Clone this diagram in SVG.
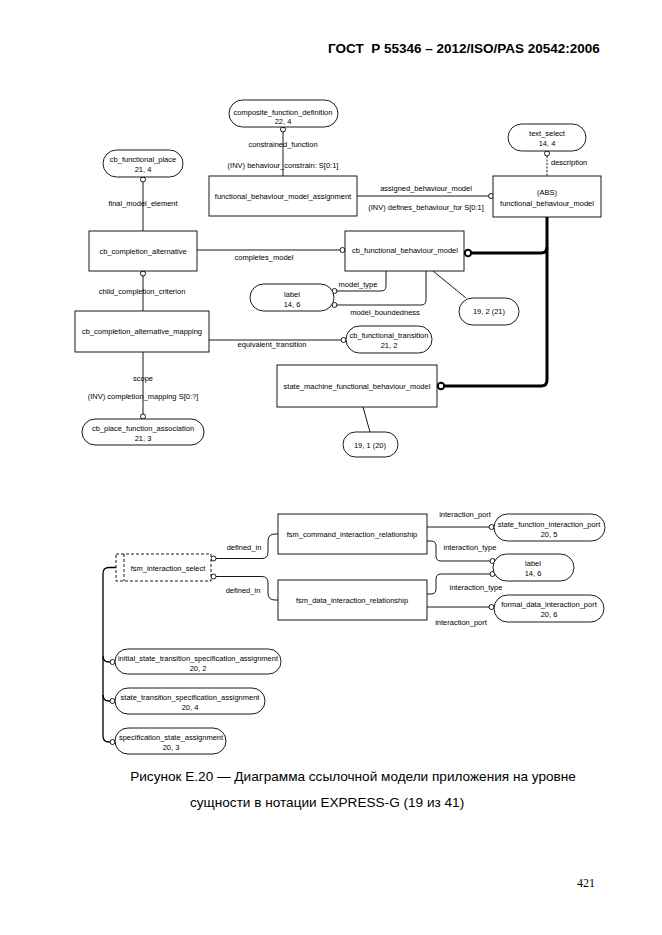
<svg xmlns="http://www.w3.org/2000/svg" width="662" height="935" viewBox="0 0 662 935">
<style>
.bg{fill:#fff}
.box{fill:#fff;stroke:#000;stroke-width:0.9}
.sel{fill:#fff;stroke:#000;stroke-width:0.9;stroke-dasharray:3,2}
.t{font-family:"Liberation Sans",Arial,sans-serif;font-size:7.5px;fill:#000;text-anchor:middle}
.ts{font-family:"Liberation Sans",Arial,sans-serif;font-size:7.5px;fill:#000}
.ln{fill:none;stroke:#000;stroke-width:0.9}
.dash{fill:none;stroke:#000;stroke-width:0.9;stroke-dasharray:2,1.5}
.thick{fill:none;stroke:#000;stroke-width:3}
.bus{fill:none;stroke:#000;stroke-width:1.3}
.c{fill:#fff;stroke:#000;stroke-width:0.9}
.ct{fill:#fff;stroke:#000;stroke-width:2}
.hdr{font-family:"Liberation Sans",Arial,sans-serif;font-size:13.5px;font-weight:bold;fill:#000;white-space:pre}
.cap{font-family:"Liberation Sans",Arial,sans-serif;font-size:13.6px;fill:#000}
.pg{font-family:"Liberation Serif","Times New Roman",serif;font-size:12px;fill:#000}
</style>
<rect class="bg" x="0" y="0" width="662" height="935"/>
<text class="hdr" x="328" y="53" xml:space="preserve">ГОСТ  Р 55346 – 2012/ISO/PAS 20542:2006</text>

<g id="connectors">
  <path class="ln" d="M283,132 V176"/>
  <circle class="c" cx="283" cy="129.5" r="2.5"/>
  <path class="ln" d="M357,196 H489"/>
  <circle class="c" cx="491" cy="196" r="2.5"/>
  <path class="dash" d="M547,156 V176"/>
  <circle class="c" cx="547" cy="153.5" r="2.5"/>
  <path class="thick" d="M547,217 V380 Q547,386 541,386 H445"/>
  <path class="thick" d="M547,247 Q547,253 541,253 H472"/>
  <circle class="ct" cx="468" cy="253" r="3.2"/>
  <circle class="ct" cx="441" cy="386" r="3.2"/>
  <path class="ln" d="M143,182 V231"/>
  <circle class="c" cx="143" cy="179.5" r="2.5"/>
  <path class="ln" d="M197,250 H340"/>
  <circle class="c" cx="342.5" cy="250" r="2.5"/>
  <path class="ln" d="M336,291 H381 Q386,291 386,286 V271"/>
  <circle class="c" cx="334.5" cy="291" r="2.5"/>
  <path class="ln" d="M336,305 H421 Q426,305 426,300 V271"/>
  <circle class="c" cx="334.5" cy="305" r="2.5"/>
  <path class="ln" d="M433,271 L466,298"/>
  <path class="ln" d="M143,276 V311"/>
  <circle class="c" cx="143" cy="273.5" r="2.5"/>
  <path class="ln" d="M209,340 H341"/>
  <circle class="c" cx="343.5" cy="340" r="2.5"/>
  <path class="ln" d="M143,352 V414"/>
  <circle class="c" cx="143" cy="416.5" r="2.5"/>
  <path class="ln" d="M363,407 L370,432"/>

  <path class="ln" d="M216,558.5 H262 Q268,558.5 268,552 V541 Q268,534 275,534 H278"/>
  <circle class="c" cx="213.5" cy="558.5" r="2.5"/>
  <path class="ln" d="M216,576.5 H262 Q268,576.5 268,583 V593 Q268,600 275,600 H278"/>
  <circle class="c" cx="213.5" cy="576.5" r="2.5"/>
  <path class="ln" d="M427,527 H489"/>
  <circle class="c" cx="491.5" cy="527" r="2.5"/>
  <path class="ln" d="M427,541 H431 Q436,541 436,546 V556 Q436,561 441,561 H490"/>
  <circle class="c" cx="492.5" cy="561" r="2.5"/>
  <path class="ln" d="M427,594 H431 Q436,594 436,589 V579 Q436,574 441,574 H490"/>
  <circle class="c" cx="492.5" cy="574" r="2.5"/>
  <path class="ln" d="M427,607 H489"/>
  <circle class="c" cx="491.5" cy="607" r="2.5"/>
  <path class="bus" d="M116,567.5 H109 Q103,567.5 103,573.5 V736 Q103,742 109,742 H110"/>
  <path class="bus" d="M103,656 Q103,662 109,662 H110"/>
  <path class="bus" d="M103,695 Q103,701 109,701 H110"/>
  <circle class="c" cx="112.5" cy="662" r="2.5"/>
  <circle class="c" cx="112.5" cy="701" r="2.5"/>
  <circle class="c" cx="112.5" cy="742" r="2.5"/>

  <text class="t" x="283" y="146.5">constrained_function</text>
  <text class="t" x="283" y="167.5">(INV) behaviour_constrain: S[0:1]</text>
  <text class="t" x="426" y="190.5">assigned_behaviour_model</text>
  <text class="t" x="426" y="209.5">(INV) defines_behaviour_for S[0:1]</text>
  <text class="ts" x="551" y="164.5">description</text>
  <text class="t" x="143" y="205.5">final_model_element</text>
  <text class="t" x="264" y="259.5">completes_model</text>
  <text class="t" x="358" y="287">model_type</text>
  <text class="t" x="385" y="314.5">model_boundedness</text>
  <text class="t" x="142" y="293.5">child_completion_criterion</text>
  <text class="t" x="272" y="346.5">equivalent_transition</text>
  <text class="t" x="143" y="380.5">scope</text>
  <text class="t" x="143" y="398.5">(INV) completion_mapping S[0:?]</text>
  <text class="t" x="244" y="549.5">defined_in</text>
  <text class="t" x="243" y="592.5">defined_in</text>
  <text class="t" x="465" y="516.5">interaction_port</text>
  <text class="t" x="470" y="549.5">interaction_type</text>
  <text class="t" x="476" y="589.5">interaction_type</text>
  <text class="t" x="461" y="624.5">interaction_port</text>
</g>

<g id="composite_function_definition">
  <rect class="box" x="229" y="100" width="109" height="27" rx="13.5"/>
  <text class="t" x="283" y="114.5">composite_function_definition</text>
  <text class="t" x="283" y="123.5">22, 4</text>
</g>
<g id="functional_behaviour_model_assignment">
  <rect class="box" x="209" y="176" width="148" height="40"/>
  <text class="t" x="283" y="199">functional_behaviour_model_assignment</text>
</g>
<g id="text_select">
  <rect class="box" x="508" y="124" width="78" height="27" rx="13.5"/>
  <text class="t" x="547" y="135.5">text_select</text>
  <text class="t" x="547" y="145.5">14, 4</text>
</g>
<g id="functional_behaviour_model">
  <rect class="box" x="493" y="176" width="108" height="41"/>
  <text class="t" x="547" y="194.5">(ABS)</text>
  <text class="t" x="547" y="205.5">functional_behaviour_model</text>
</g>
<g id="cb_functional_place">
  <rect class="box" x="103" y="150" width="80" height="27" rx="13.5"/>
  <text class="t" x="143" y="161.5">cb_functional_place</text>
  <text class="t" x="143" y="171.5">21, 4</text>
</g>
<g id="cb_completion_alternative">
  <rect class="box" x="89" y="231" width="108" height="40"/>
  <text class="t" x="143" y="253.5">cb_completion_alternative</text>
</g>
<g id="cb_functional_behaviour_model">
  <rect class="box" x="345" y="231" width="119" height="40"/>
  <text class="t" x="405" y="252.5">cb_functional_behaviour_model</text>
</g>
<g id="label_1">
  <rect class="box" x="250" y="284" width="84" height="27" rx="13.5"/>
  <text class="t" x="292" y="296.5">label</text>
  <text class="t" x="292" y="306.5">14, 6</text>
</g>
<g id="ref_19_2_21">
  <rect class="box" x="459" y="298" width="60" height="27" rx="13.5"/>
  <text class="t" x="489" y="313.5">19, 2 (21)</text>
</g>
<g id="cb_completion_alternative_mapping">
  <rect class="box" x="75" y="311" width="134" height="41"/>
  <text class="t" x="142" y="333.5">cb_completion_alternative_mapping</text>
</g>
<g id="cb_functional_transition">
  <rect class="box" x="346" y="326" width="86" height="27" rx="13.5"/>
  <text class="t" x="389" y="337.5">cb_functional_transition</text>
  <text class="t" x="389" y="347.5">21, 2</text>
</g>
<g id="state_machine_functional_behaviour_model">
  <rect class="box" x="277" y="365" width="160" height="42"/>
  <text class="t" x="357" y="388.5">state_machine_functional_behaviour_model</text>
</g>
<g id="ref_19_1_20">
  <rect class="box" x="343" y="432" width="55" height="25" rx="12.5"/>
  <text class="t" x="370" y="447.5">19, 1 (20)</text>
</g>
<g id="cb_place_function_association">
  <rect class="box" x="82" y="419" width="122" height="26" rx="13"/>
  <text class="t" x="143" y="430.5">cb_place_function_association</text>
  <text class="t" x="143" y="440.5">21, 3</text>
</g>

<g id="fsm_command_interaction_relationship">
  <rect class="box" x="278" y="514" width="149" height="40"/>
  <text class="t" x="352" y="536.5">fsm_command_interaction_relationship</text>
</g>
<g id="fsm_data_interaction_relationship">
  <rect class="box" x="278" y="580" width="149" height="40"/>
  <text class="t" x="352" y="602.5">fsm_data_interaction_relationship</text>
</g>
<g id="fsm_interaction_select">
  <rect class="sel" x="116" y="554" width="95" height="27"/>
  <line class="sel" x1="124" y1="554" x2="124" y2="581"/>
  <text class="t" x="168" y="570.5">fsm_interaction_select</text>
</g>
<g id="state_function_interaction_port">
  <rect class="box" x="494" y="514" width="111" height="27" rx="13.5"/>
  <text class="t" x="549" y="526.5">state_function_interaction_port</text>
  <text class="t" x="549" y="536.5">20, 5</text>
</g>
<g id="label_2">
  <rect class="box" x="493" y="554" width="81" height="27" rx="13.5"/>
  <text class="t" x="533" y="565.5">label</text>
  <text class="t" x="533" y="575.5">14, 6</text>
</g>
<g id="formal_data_interaction_port">
  <rect class="box" x="494" y="595" width="110" height="27" rx="13.5"/>
  <text class="t" x="549" y="606.5">formal_data_interaction_port</text>
  <text class="t" x="549" y="616.5">20, 6</text>
</g>
<g id="initial_state_transition_specification_assignment">
  <rect class="box" x="115" y="649" width="166" height="25" rx="12.5"/>
  <text class="t" x="198" y="660.5">initial_state_transition_specification_assignment</text>
  <text class="t" x="198" y="670.5">20, 2</text>
</g>
<g id="state_transition_specification_assignment">
  <rect class="box" x="115" y="688" width="150" height="26" rx="13"/>
  <text class="t" x="190" y="699.5">state_transition_specification_assignment</text>
  <text class="t" x="190" y="709.5">20, 4</text>
</g>
<g id="specification_state_assignment">
  <rect class="box" x="115" y="728" width="111" height="26" rx="13"/>
  <text class="t" x="171" y="739.5">specification_state_assignment</text>
  <text class="t" x="171" y="749.5">20, 3</text>
</g>

<text class="cap" x="353" y="781" text-anchor="middle">Рисунок Е.20 — Диаграмма ссылочной модели приложения на уровне</text>
<text class="cap" x="190" y="807">сущности в нотации EXPRESS-G (19 из 41)</text>
<text class="pg" x="577" y="887">421</text>
</svg>
